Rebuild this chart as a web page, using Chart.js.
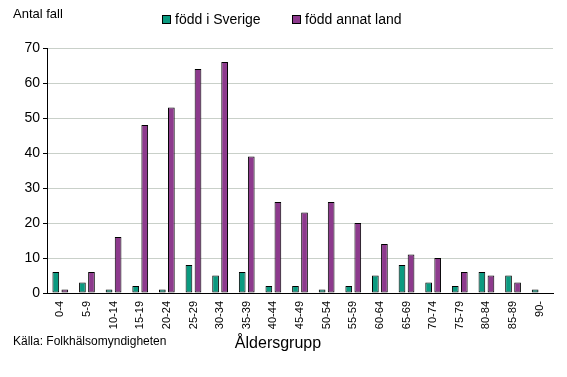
<!DOCTYPE html>
<html>
<head>
<meta charset="utf-8">
<script src="https://cdn.jsdelivr.net/npm/chart.js@4"></script>
<style>
  html, body { margin: 0; padding: 0; background: #fff; }
  #wrap { width: 567px; height: 377px; position: relative; }
</style>
</head>
<body>
<div id="wrap"><canvas id="aldersChart"></canvas></div>
<script>
const agegroups = ['0-4', '5-9', '10-14', '15-19', '20-24', '25-29', '30-34', '35-39', '40-44', '45-49',
    '50-54', '55-59', '60-64', '65-69', '70-74', '75-79', '80-84', '85-89', '90-'];
const foddSverige = [6, 3, 1, 2, 1, 8, 5, 6, 2, 2, 1, 2, 5, 8, 3, 2, 6, 5, 1];
const foddAnnat = [1, 6, 16, 48, 53, 64, 66, 39, 26, 23, 26, 20, 14, 11, 10, 6, 5, 3, 0];
const yTicks = [0, 10, 20, 30, 40, 50, 60, 70];

const FONT = '"Liberation Sans", Arial, sans-serif';

// texter och legend ritas för hand
const textPlugin = {
    id: 'texter',
    afterDraw(chart) {
        const c = chart.ctx;
        c.save();
        c.fillStyle = '#000';
        c.textBaseline = 'middle';
        c.font = '13px ' + FONT;
        c.fillText('Antal fall', 13, 14);

        let x = 162;
        c.font = '14px ' + FONT;
        chart.data.datasets.forEach((ds) => {
            c.fillStyle = ds.backgroundColor;
            c.fillRect(x, 15, 9, 9);
            c.strokeStyle = '#000';
            c.lineWidth = 1;
            c.strokeRect(x + 0.5, 15.5, 8, 8);
            c.fillStyle = '#000';
            c.fillText(ds.label, x + 13, 20);
            x += 130;
        });

        c.font = '12px ' + FONT;
        c.fillText('Källa: Folkhälsomyndigheten', 13, 342);
        c.font = '16px ' + FONT;
        c.textAlign = 'center';
        c.fillText('Åldersgrupp', 278, 344);
        c.restore();
    }
};

const ctx = document.getElementById('aldersChart');
new Chart(ctx, {
    type: 'bar',
    data: {
        labels: agegroups,
        datasets: [
            { label: 'född i Sverige', data: foddSverige, backgroundColor: '#0b9a80', borderColor: '#000', borderWidth: 1, borderSkipped: false },
            { label: 'född annat land', data: foddAnnat, backgroundColor: '#8d3a8d', borderColor: '#000', borderWidth: 1, borderSkipped: false }
        ]
    },
    options: {
        responsive: true,
        maintainAspectRatio: false,
        animation: false,
        layout: { padding: { top: 48, left: 0, right: 14, bottom: 0 } },
        datasets: { bar: { categoryPercentage: 0.68, barPercentage: 0.74 } },
        plugins: { legend: { display: false }, tooltip: { enabled: false } },
        scales: {
            x: {
                grid: { display: false, drawTicks: false },
                border: { color: '#000', width: 1 },
                ticks: { color: '#000', font: { family: FONT, size: 11 }, maxRotation: 90, minRotation: 90, padding: 8, autoSkip: false },
                afterFit(s) { s.height = 84; }
            },
            y: {
                min: 0, max: 70,
                afterBuildTicks(s) { s.ticks = yTicks.map(v => ({ value: v })); },
                grid: { color: '#c9d0c9', tickColor: '#000', tickLength: 4 },
                border: { color: '#000', width: 1 },
                ticks: { color: '#000', font: { family: FONT, size: 14 }, padding: 3 },
                afterFit(s) { s.width = 47; }
            }
        }
    },
    plugins: [textPlugin]
});
</script>
</body>
</html>
